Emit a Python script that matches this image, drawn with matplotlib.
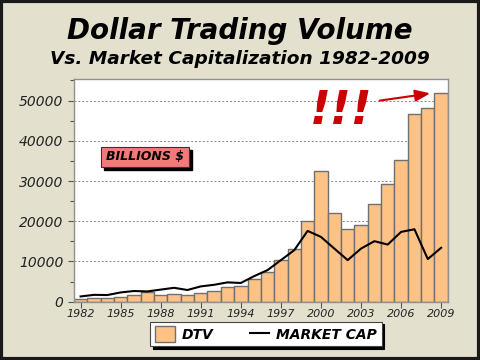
# -*- coding: utf-8 -*-
"""Dollar trading volume vs. market capitalization, 1982-2009."""
import matplotlib
matplotlib.use("Agg")
import matplotlib.pyplot as plt
from matplotlib.patches import Rectangle
from matplotlib.ticker import MultipleLocator

OUT = "out.png"

years = list(range(1982, 2010))
dtv = [700, 800, 800, 1100, 1650, 2300, 1650, 1900, 1650, 2050,
       2650, 3550, 3900, 5540, 7270, 10250, 13140, 20170, 32560, 22150,
       18020, 19170, 24380, 29340, 35290, 46690, 48260, 51980]
market_cap = [1300, 1700, 1650, 2300, 2650, 2550, 3000, 3450, 2900, 3800,
              4200, 4800, 4650, 6360, 7850, 10330, 12800, 17600, 16100, 13200,
              10330, 13200, 15040, 14200, 17350, 18000, 10600, 13400]
tick_years = years[::3]

BG = "#E3E1CE"
BAR = "#FFC285"
FONT = "DejaVu Sans"

fig = plt.figure(figsize=(4.8, 3.6), dpi=100, facecolor=BG)
# dark frame around the whole picture
fig.patches.append(Rectangle((0.003, 0.004), 0.994, 0.992, transform=fig.transFigure,
                             fill=False, edgecolor="#1a1a1a", linewidth=3))

ax = fig.add_axes([0.154, 0.162, 0.779, 0.619])
ax.set_facecolor("white")
idx = list(range(len(years)))
bars = ax.bar(idx, dtv, width=1.0, color=BAR, edgecolor="#707070", linewidth=1.0,
              label="DTV", zorder=2)
line, = ax.plot(idx, market_cap, color="black", linewidth=1.5, label="MARKET CAP", zorder=3)

ax.set_xlim(-0.5, len(years) - 0.5)
ax.set_ylim(0, 55400)
ax.yaxis.set_major_locator(MultipleLocator(10000))
ax.yaxis.set_minor_locator(MultipleLocator(5000))
ax.set_xticks([years.index(y) for y in tick_years])
ax.set_xticklabels([str(y) for y in tick_years], fontsize=8, style="italic", family=FONT,
                   color="#222222")
for t in ax.get_yticklabels():
    t.set_fontsize(10)
    t.set_style("italic")
    t.set_color("#222222")
ax.tick_params(axis="both", which="both", color="#555555", length=4, width=0.8)
ax.tick_params(axis="y", which="minor", length=3)
ax.tick_params(axis="x", pad=1)
ax.grid(axis="y", linestyle=(0, (2, 2)), color="#888888", linewidth=0.7)
ax.set_axisbelow(True)
for s in ax.spines.values():
    s.set_color("#909090")
    s.set_linewidth(1.0)

# titles
fig.text(0.5, 0.915, "Dollar Trading Volume", ha="center", va="center", fontsize=20,
         fontweight="bold", style="italic", family=FONT, color="black")
fig.text(0.5, 0.835, "Vs. Market Capitalization 1982-2009", ha="center", va="center",
         fontsize=13.3, fontweight="bold", style="italic", family=FONT, color="black")

# "BILLIONS $" label with drop shadow
bx, by, bw, bh = 101 / 480, 1 - 167 / 360, 88 / 480, 20 / 360
fig.patches.append(Rectangle((bx + 3 / 480, by - 3 / 360), bw, bh, transform=fig.transFigure,
                             facecolor="black", edgecolor="black", zorder=5))
fig.patches.append(Rectangle((bx, by), bw, bh, transform=fig.transFigure,
                             facecolor="#F47A7A", edgecolor="#333333", linewidth=0.8, zorder=6))
fig.text(bx + bw / 2, by + bh / 2, "BILLIONS $", ha="center", va="center", fontsize=9,
         fontweight="bold", style="italic", family=FONT, zorder=7)

# exclamation + arrow
fig.text(341 / 480, 1 - 112 / 360, "!!!", ha="center", va="center", fontsize=33,
         fontweight="bold", style="italic", family=FONT, color="#CC0000")
ax.annotate("", xy=(433, 360 - 93), xytext=(377, 360 - 101),
            xycoords="figure pixels", textcoords="figure pixels",
            arrowprops=dict(arrowstyle="-|>,head_length=0.9,head_width=0.35",
                            color="#CC0000", linewidth=1.5, mutation_scale=10))

leg = ax.legend(handles=[bars, line], labels=["DTV", "MARKET CAP"],
                loc="center", bbox_to_anchor=(266 / 480, 1 - 334 / 360),
                bbox_transform=fig.transFigure, ncol=2, frameon=True, fancybox=False,
                shadow={"color": "black", "alpha": 1.0}, edgecolor="#444444",
                prop={"family": FONT, "weight": "bold", "style": "italic", "size": 10},
                columnspacing=2.6, handlelength=1.4, handleheight=1.3, borderpad=0.35,
                handletextpad=0.5)
leg.get_frame().set_linewidth(0.8)

fig.savefig(OUT, dpi=100, facecolor=BG)
print("Saved", OUT)
